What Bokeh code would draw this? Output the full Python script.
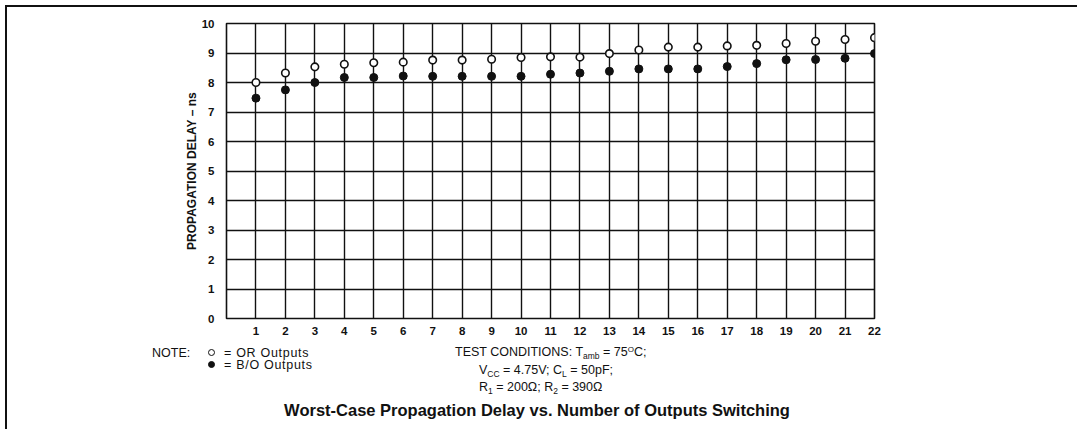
from bokeh.plotting import figure
from bokeh.models import FixedTicker, Div
from bokeh.layouts import column
from bokeh.embed import file_html
from bokeh.resources import INLINE

# ---------------- data ----------------
outputs = list(range(1, 23))
or_delay = [8.00, 8.32, 8.53, 8.62, 8.67, 8.69, 8.76, 8.76, 8.79, 8.85, 8.87,
            8.86, 8.98, 9.10, 9.20, 9.20, 9.24, 9.26, 9.32, 9.40, 9.46, 9.52]
bo_delay = [7.47, 7.75, 8.00, 8.17, 8.17, 8.22, 8.21, 8.21, 8.21, 8.21, 8.28,
            8.32, 8.38, 8.46, 8.46, 8.46, 8.54, 8.64, 8.77, 8.78, 8.82, 8.98]
x_ticks = list(range(1, 23))
y_ticks = list(range(0, 11))

y_label = "PROPAGATION DELAY \u2013 ns"
title_text = "Worst-Case Propagation Delay vs. Number of Outputs Switching"
note_text = "NOTE:"
legend_labels = ["= OR Outputs", "= B/O Outputs"]
cond_lines = [
    "TEST CONDITIONS: T<sub>amb</sub> = 75<sup>O</sup>C;",
    "V<sub>CC</sub> = 4.75V; C<sub>L</sub> = 50pF;",
    "R<sub>1</sub> = 200\u03a9; R<sub>2</sub> = 390\u03a9",
]

FONT = "Liberation Sans"
OX, OY = 7, 7                      # page position of the canvas origin
W = 1070
ML, MT = 226 - OX, 23 - OY
FW, FH = 648, 295
MR = W - ML - FW
H = 336
MB = H - MT - FH

p = figure(width=W, height=H, output_backend="svg", toolbar_location=None,
           x_range=(0, 22), y_range=(0, 10),
           min_border_left=ML, min_border_right=MR, min_border_top=MT, min_border_bottom=MB)
p.background_fill_color = "white"
p.border_fill_color = "white"
p.outline_line_color = "#111"
p.outline_line_width = 1.6
p.outline_line_alpha = 1

for g in (p.xgrid, p.ygrid):
    g.grid_line_color = "#111"
    g.grid_line_width = 1.4
    g.grid_line_alpha = 1
p.xgrid.ticker = FixedTicker(ticks=x_ticks)
p.ygrid.ticker = FixedTicker(ticks=y_ticks)

for ax in (p.xaxis[0], p.yaxis[0]):
    ax.axis_line_color = None
    ax.major_tick_line_color = None
    ax.minor_tick_line_color = None
    ax.major_label_text_font = FONT
    ax.major_label_text_font_style = "bold"
    ax.major_label_text_font_size = "11.5px"
    ax.major_label_text_color = "#111"
p.xaxis[0].ticker = FixedTicker(ticks=x_ticks)
p.yaxis[0].ticker = FixedTicker(ticks=y_ticks)
p.xaxis[0].major_label_standoff = 2
p.yaxis[0].major_label_standoff = 6
p.yaxis[0].axis_label = y_label
p.yaxis[0].axis_label_text_font = FONT
p.yaxis[0].axis_label_text_font_style = "bold"
p.yaxis[0].axis_label_text_font_size = "12px"
p.yaxis[0].axis_label_text_color = "#111"
p.yaxis[0].axis_label_standoff = 0

p.scatter(outputs, or_delay, size=7.5, marker="circle", fill_color="white",
          line_color="#111", line_width=1.6)
p.scatter(outputs, bo_delay, size=8, marker="circle", fill_color="#111",
          line_color="#111", line_width=1)

# ---------- notes and caption below the chart (HTML text) ----------
DIV_TOP = OY + H        # page y where the div starts
DH = 86
TS = 12.5

def span(html, left, cy, size=TS, bold=False, center=False, extra=""):
    lh = 15
    top = cy - lh / 2 - DIV_TOP
    tr = "transform:translateX(-50%);" if center else ""
    fw = "bold" if bold else "normal"
    return (f'<span style="position:absolute;left:{left - OX}px;top:{top}px;'
            f'font-size:{size}px;line-height:{lh}px;font-weight:{fw};'
            f'white-space:nowrap;{tr}{extra}">{html}</span>')

def dot(cx, cy, filled):
    d = 5
    bw = 1.3
    bg = "#111" if filled else "white"
    return (f'<span style="position:absolute;display:block;box-sizing:content-box;'
            f'left:{cx - OX - d / 2 - bw}px;top:{cy - DIV_TOP - d / 2 - bw}px;'
            f'width:{d}px;height:{d}px;border:{bw}px solid #111;'
            f'border-radius:50%;background:{bg};"></span>')

parts = [
    span(note_text, 152, 353),
    dot(212, 353, False),
    dot(212, 365, True),
    span(legend_labels[0], 224, 353, extra="letter-spacing:0.7px;"),
    span(legend_labels[1], 224, 365, extra="letter-spacing:0.7px;"),
]
for html, (lx, cy) in zip(cond_lines, [(455, 352), (479, 370), (479, 387)]):
    html = (html.replace("<sub>", '<sub style="font-size:8.5px;vertical-align:-3px;line-height:0">')
                .replace("<sup>", '<sup style="font-size:8px;vertical-align:4px;line-height:0">'))
    parts.append(span(html, lx, cy))
parts.append(span(title_text, 537, 410, size=16.5, bold=True, center=True))

div_html = (f'<div style="position:relative;width:{W}px;height:{DH}px;'
            f'font-family:\'{FONT}\';color:#111;">' + "".join(parts) + "</div>")
div = Div(text=div_html, width=W, height=DH, margin=0)

layout = column(p, div, spacing=0,
                styles={"border-top": "2px solid #111", "border-left": "2px solid #111",
                        "border-right": "none", "border-bottom": "none",
                        "outline": "none", "overflow": "hidden",
                        "margin-top": "5px", "margin-left": "5px", "background": "white"})

open("out.html", "w").write(file_html(layout, INLINE))
